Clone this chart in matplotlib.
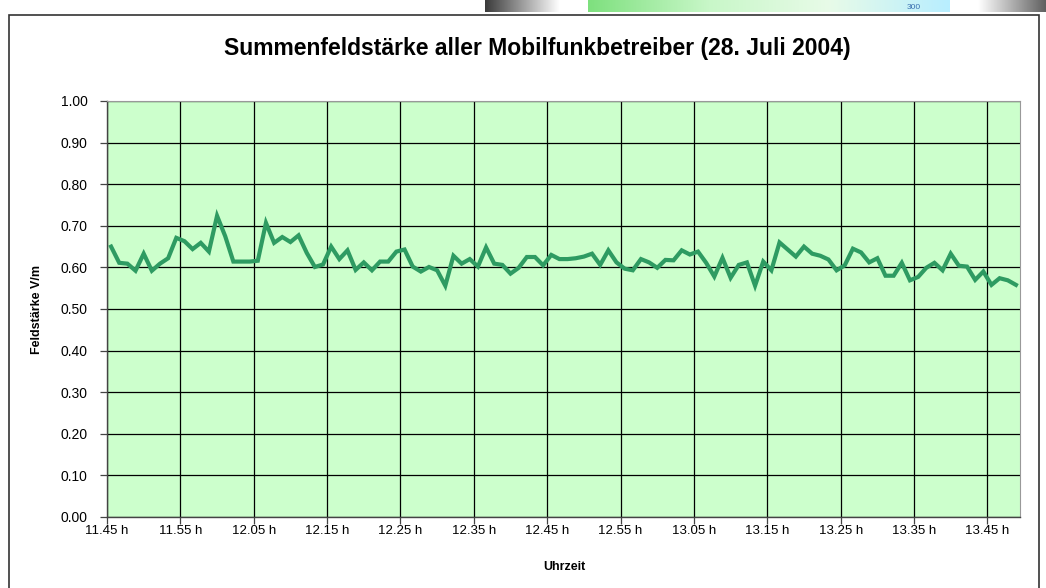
import matplotlib
matplotlib.use("Agg")
import matplotlib.pyplot as plt
from matplotlib.patches import Rectangle
from matplotlib.colors import LinearSegmentedColormap
import numpy as np

plt.rcParams['font.family'] = ['Liberation Sans', 'DejaVu Sans']

title = "Summenfeldstärke aller Mobilfunkbetreiber (28. Juli 2004)"
x_label = "Uhrzeit"
y_label = "Feldstärke V/m"
tick_labels = ["11.45 h", "11.55 h", "12.05 h", "12.15 h", "12.25 h", "12.35 h",
               "12.45 h", "12.55 h", "13.05 h", "13.15 h", "13.25 h", "13.35 h", "13.45 h"]
points_per_label = 9
values = [
    0.650, 0.611, 0.609, 0.592, 0.633, 0.592, 0.609, 0.622, 0.671, 0.663,
    0.644, 0.659, 0.638, 0.724, 0.675, 0.614, 0.614, 0.614, 0.616, 0.707,
    0.659, 0.673, 0.661, 0.677, 0.635, 0.601, 0.607, 0.650, 0.620, 0.641,
    0.594, 0.612, 0.593, 0.614, 0.614, 0.638, 0.643, 0.602, 0.590, 0.601,
    0.593, 0.556, 0.628, 0.609, 0.620, 0.602, 0.648, 0.609, 0.606, 0.585,
    0.599, 0.625, 0.625, 0.605, 0.630, 0.620, 0.620, 0.622, 0.626, 0.633,
    0.606, 0.641, 0.612, 0.597, 0.593, 0.620, 0.612, 0.599, 0.618, 0.617,
    0.641, 0.631, 0.638, 0.611, 0.578, 0.623, 0.575, 0.606, 0.612, 0.556,
    0.614, 0.593, 0.660, 0.643, 0.626, 0.650, 0.633, 0.628, 0.619, 0.593,
    0.605, 0.645, 0.636, 0.612, 0.622, 0.580, 0.580, 0.611, 0.569, 0.577,
    0.599, 0.611, 0.593, 0.633, 0.604, 0.602, 0.570, 0.590, 0.558, 0.574,
    0.569, 0.558,
]

W, H = 1046, 588
fig = plt.figure(figsize=(W / 100, H / 100), dpi=100)
fig.patch.set_facecolor("white")


def fr(x0, y0, x1, y1):
    return (x0 / W, 1 - y1 / H, (x1 - x0) / W, (y1 - y0) / H)


# decorative strip at the top (fragments of a neighbouring image)
grad = np.linspace(0, 1, 256).reshape(1, -1)
ax_s1 = fig.add_axes(fr(485, 0, 560, 12))
ax_s1.imshow(grad, aspect="auto", cmap="gray", vmin=-0.3, vmax=1.0)
ax_s1.axis("off")
ax_s2 = fig.add_axes(fr(588, 0, 950, 12))
gcm = LinearSegmentedColormap.from_list("g", ["#7ee07e", "#c8f7c8", "#e8fbe8", "#b8eeff"])
ax_s2.imshow(grad, aspect="auto", cmap=gcm)
ax_s2.text(0.9, 0.05, "300", transform=ax_s2.transAxes, fontsize=6, color="#3a6fb0",
           ha="center", va="bottom")
ax_s2.axis("off")
ax_s3 = fig.add_axes(fr(978, 0, 1046, 12))
ax_s3.imshow(grad[:, ::-1], aspect="auto", cmap="gray", vmin=-0.6, vmax=1.0)
ax_s3.axis("off")

# chart area border
fig.patches.append(Rectangle((9 / W, -0.1), (1039 - 9) / W, 1.1 - 15 / H,
                             transform=fig.transFigure, fill=False,
                             edgecolor="#333333", linewidth=1.2))

left, right, top, bottom = 107, 1020, 101, 517
ax = fig.add_axes((left / W, 1 - bottom / H, (right - left) / W, (bottom - top) / H))
ax.set_facecolor("#CCFFCC")

n = len(values)
x = np.arange(n) + 0.5
ax.plot(x, values, color="#2E9B62", linewidth=3.0, solid_joinstyle="miter", zorder=3)

ax.set_xlim(0, n)
ax.set_ylim(0, 1.0)
xt = np.arange(len(tick_labels)) * points_per_label
ax.set_xticks(xt)
ax.set_xticklabels(tick_labels, fontsize=9.5)
yt = np.arange(0, 1.01, 0.1)
ax.set_yticks(yt)
ax.set_yticklabels([f"{v:.2f}" for v in yt], fontsize=10)
ax.grid(True, color="black", linewidth=0.9)
ax.set_axisbelow(True)
ax.tick_params(axis="both", direction="out", length=5, width=0.9, color="#444444")
ax.tick_params(axis="x", pad=1)
ax.tick_params(axis="y", pad=9)
for s in ["top", "right"]:
    ax.spines[s].set_color("#999999")
for s in ["left", "bottom"]:
    ax.spines[s].set_color("#444444")
    ax.spines[s].set_linewidth(1.0)

fig.text(537 / W, 1 - 48 / H, title, ha="center", va="center", fontsize=16.5, fontweight="bold")
fig.text(564 / W, 1 - 567 / H, x_label, ha="center", va="center", fontsize=9, fontweight="bold")
fig.text(37 / W, 1 - 309 / H, y_label, ha="center", va="center", fontsize=9,
         fontweight="bold", rotation=90)

fig.savefig("out.png", dpi=100)
